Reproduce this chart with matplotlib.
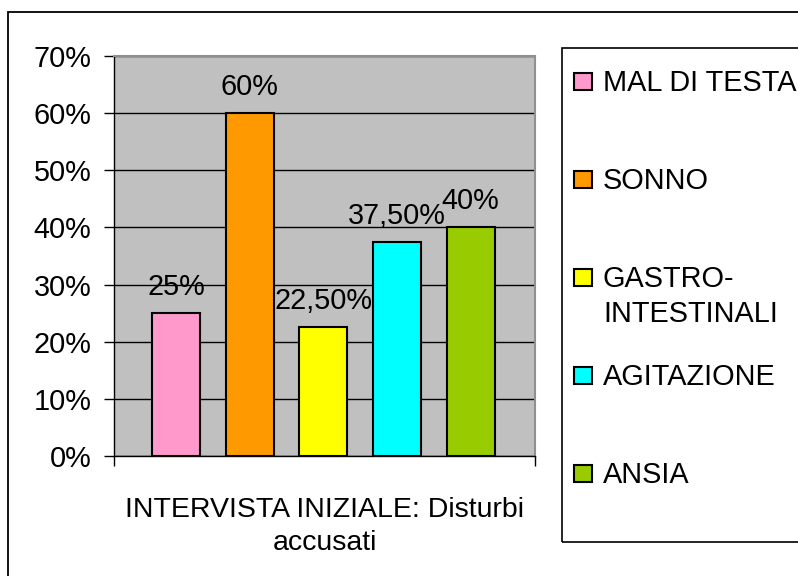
import matplotlib
matplotlib.use("Agg")
import matplotlib.pyplot as plt
from matplotlib.patches import Rectangle
import numpy as np

categories = ["MAL DI TESTA", "SONNO", "GASTRO-\nINTESTINALI", "AGITAZIONE", "ANSIA"]
values = [0.25, 0.60, 0.225, 0.375, 0.40]
value_labels = ["25%", "60%", "22,50%", "37,50%", "40%"]
colors = ["#FF99CC", "#FF9900", "#FFFF00", "#00FFFF", "#99CC00"]
yticks = [0, 0.1, 0.2, 0.3, 0.4, 0.5, 0.6, 0.7]
ytick_labels = ["0%", "10%", "20%", "30%", "40%", "50%", "60%", "70%"]
xlabel = "INTERVISTA INIZIALE: Disturbi\naccusati"

plt.rcParams['font.family'] = ['Liberation Sans', 'DejaVu Sans']
FS = 20.8
W, H = 798, 576
fig = plt.figure(figsize=(W / 100, H / 100), dpi=100)

def fx(px):
    return px / W

def fy(py):
    return 1 - py / H

# outer chart border
fig.patches.append(Rectangle((fx(8), fy(590)), fx(800), fy(12) - fy(590),
                             transform=fig.transFigure, fill=False,
                             edgecolor="black", linewidth=1.3))

ax = fig.add_axes([fx(114), fy(456), fx(535) - fx(114), fy(56) - fy(456)])
ax.set_facecolor("#C0C0C0")
x = np.arange(len(values))
bars = ax.bar(x, values, width=0.652, color=colors, edgecolor="black",
              linewidth=1.5, zorder=3)
ax.set_xlim(-0.842, 4.876)
ax.set_ylim(0, 0.7)
ax.set_yticks(yticks)
ax.set_yticklabels(ytick_labels, fontsize=FS)
ax.yaxis.grid(True, color="black", linewidth=1.0, zorder=1)
ax.set_axisbelow(True)
ax.tick_params(axis='y', direction='out', length=7.2, width=1.0, pad=9.0,
               color="black")
ax.set_xticks([ax.get_xlim()[0], ax.get_xlim()[1]])
ax.set_xticklabels(["", ""])
ax.tick_params(axis='x', direction='out', length=7.2, width=1.0, color="black")

for s in ["top", "right"]:
    ax.spines[s].set_color("#909090")
    ax.spines[s].set_linewidth(1.5)
for s in ["left", "bottom"]:
    ax.spines[s].set_color("black")
    ax.spines[s].set_linewidth(1.0)

for b, lab in zip(bars, value_labels):
    ax.annotate(lab, (b.get_x() + b.get_width() / 2, b.get_height()),
                xytext=(0, 13), textcoords="offset points",
                ha="center", va="baseline", fontsize=FS, zorder=4)

ax.set_xlabel(xlabel, fontsize=20.5, linespacing=1.33, labelpad=19)

# legend box
fig.patches.append(Rectangle((fx(562), fy(542)), fx(260), fy(48) - fy(542),
                             transform=fig.transFigure, fill=False,
                             edgecolor="black", linewidth=1.2))
base_y = 91
step = 98
line_step = 35
for i, (cat, col) in enumerate(zip(categories, colors)):
    by = base_y + i * step
    fig.patches.append(Rectangle((fx(574), fy(by - 1)), fx(18), fy(by - 18) - fy(by - 1),
                                 transform=fig.transFigure, facecolor=col,
                                 edgecolor="black", linewidth=1.5))
    for j, line in enumerate(cat.split("\n")):
        fig.text(fx(603), fy(by + j * line_step), line, fontsize=FS,
                 ha="left", va="baseline")

fig.savefig("out.png", dpi=100)
